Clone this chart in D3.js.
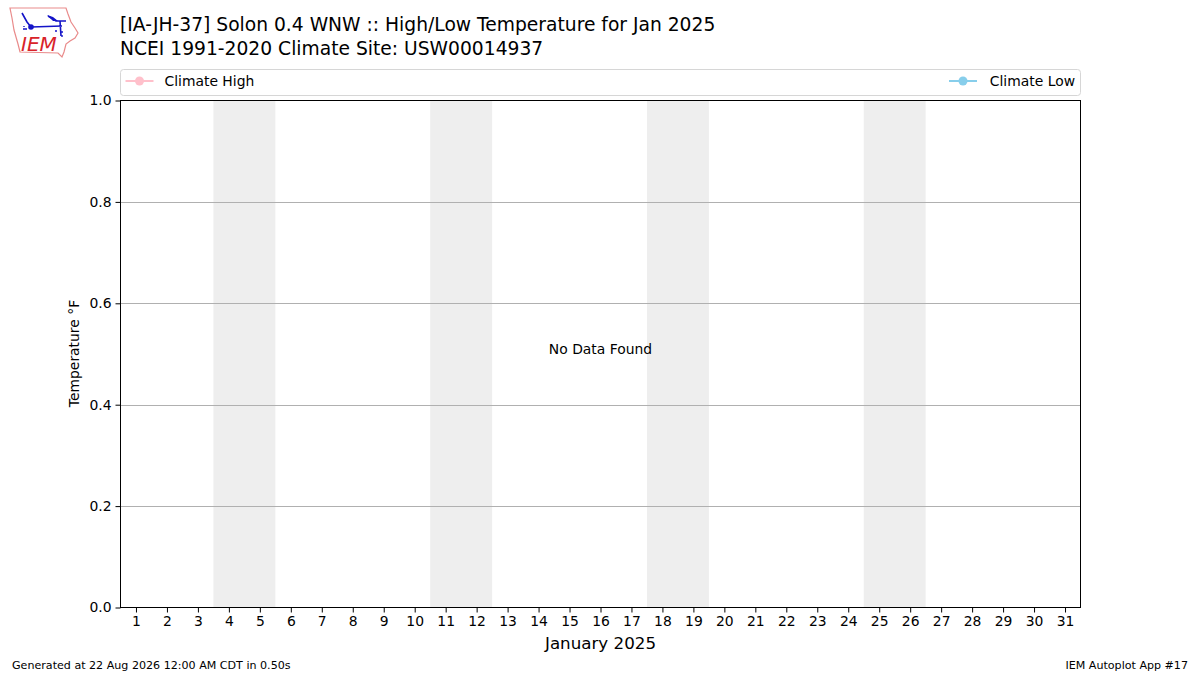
<!DOCTYPE html>
<html>
<head>
<meta charset="utf-8">
<script src="https://cdn.jsdelivr.net/npm/d3@7"></script>
<style>
html, body { margin: 0; padding: 0; background: #fff; }
svg { display: block; }
text { font-family: "DejaVu Sans", sans-serif; fill: #000; }
</style>
</head>
<body>
<svg id="chart" width="1200" height="675"></svg>
<script>
// Chart data
const days = d3.range(1, 32);
const weekends = [[4, 5], [11, 12], [18, 19], [25, 26]];
const yTicks = [0, 0.2, 0.4, 0.6, 0.8, 1.0];
const titleLines = [
    "[IA-JH-37] Solon 0.4 WNW :: High/Low Temperature for Jan 2025",
    "NCEI 1991-2020 Climate Site: USW00014937"
];
const highLabel = "Climate High";
const lowLabel = "Climate Low";
const highColor = "#ffc0cb";
const lowColor = "#87ceeb";

const svg = d3.select("#chart");
const plotLeft = 120.5, plotRight = 1080.5, plotTop = 100.5, plotBottom = 607.5;

const x = d3.scaleLinear().domain([0.5, 31.5]).range([plotLeft, plotRight]);
const y = d3.scaleLinear().domain([0, 1]).range([plotBottom, plotTop]);

// Weekend bands
svg.append("g").selectAll("rect")
    .data(weekends)
    .join("rect")
    .attr("x", d => x(d[0] - 0.5))
    .attr("y", plotTop)
    .attr("width", d => x(d[1] + 0.5) - x(d[0] - 0.5))
    .attr("height", plotBottom - plotTop)
    .attr("fill", "#eeeeee");

// Grid lines
svg.append("g").selectAll("line")
    .data(yTicks.slice(1, -1))
    .join("line")
    .attr("x1", plotLeft).attr("x2", plotRight)
    .attr("y1", d => Math.round(y(d)) + 0.5)
    .attr("y2", d => Math.round(y(d)) + 0.5)
    .attr("stroke", "#b0b0b0")
    .attr("stroke-width", 1);

// Axes
const xAxis = d3.axisBottom(x).tickValues(days).tickFormat(d3.format("d")).tickSize(5).tickPadding(4);
const yAxis = d3.axisLeft(y).tickValues(yTicks).tickFormat(d3.format(".1f")).tickSize(5).tickPadding(4);

const gx = svg.append("g").attr("transform", `translate(0,${plotBottom})`).call(xAxis);
const gy = svg.append("g").attr("transform", `translate(${plotLeft},0)`).call(yAxis);
[gx, gy].forEach(g => {
    g.select(".domain").remove();
    g.selectAll("text").attr("font-size", 13.9).attr("font-family", "DejaVu Sans");
    g.selectAll("line").attr("stroke", "#000").attr("stroke-width", 1);
});

// Plot frame
svg.append("rect")
    .attr("x", plotLeft).attr("y", plotTop)
    .attr("width", plotRight - plotLeft).attr("height", plotBottom - plotTop)
    .attr("fill", "none").attr("stroke", "#000").attr("stroke-width", 1);

// Axis labels
svg.append("text")
    .attr("transform", `translate(79,${(plotTop + plotBottom) / 2 - 0.5}) rotate(-90)`)
    .attr("text-anchor", "middle")
    .attr("font-size", 13.9)
    .text("Temperature °F");

svg.append("text")
    .attr("x", (plotLeft + plotRight) / 2)
    .attr("y", 649)
    .attr("text-anchor", "middle")
    .attr("font-size", 16.7)
    .text("January 2025");

svg.append("text")
    .attr("x", x(16))
    .attr("y", 354)
    .attr("text-anchor", "middle")
    .attr("font-size", 13.9)
    .text("No Data Found");

// Title
svg.append("g").selectAll("text")
    .data(titleLines)
    .join("text")
    .attr("x", 120)
    .attr("y", (d, i) => 31 + i * 23.5)
    .attr("font-size", 18.7)
    .text(d => d);

// Legend
svg.append("rect")
    .attr("x", 120.5).attr("y", 69.5)
    .attr("width", 960).attr("height", 26)
    .attr("rx", 3)
    .attr("fill", "#fff")
    .attr("stroke", "#d6d6d6");

function legendKey(cx, color) {
    svg.append("line")
        .attr("x1", cx - 14).attr("x2", cx + 14)
        .attr("y1", 81).attr("y2", 81)
        .attr("stroke", color).attr("stroke-width", 2);
    svg.append("circle")
        .attr("cx", cx).attr("cy", 81).attr("r", 4.5)
        .attr("fill", color);
}
legendKey(139.5, highColor);
legendKey(963, lowColor);

svg.append("text").attr("x", 164.5).attr("y", 86).attr("font-size", 13.9).text(highLabel);
svg.append("text").attr("x", 1075).attr("y", 86).attr("text-anchor", "end").attr("font-size", 13.9).text(lowLabel);

// Footer
svg.append("text").attr("x", 12).attr("y", 669).attr("font-size", 11.1)
    .text("Generated at 22 Aug 2026 12:00 AM CDT in 0.50s");
svg.append("text").attr("x", 1188).attr("y", 669).attr("text-anchor", "end").attr("font-size", 11.1)
    .text("IEM Autoplot App #17");

// IEM logo
const logo = svg.append("g");
logo.append("path")
    .attr("d", "M10,8 L66,8 L68,14 L71,22 L75,28 L78,33 L75,38 L70,41 L66,44 L64,52 L62,57 L58,53 L20,52 L18,44 L14,30 L12,18 Z")
    .attr("fill", "#fff").attr("stroke", "#e98b8b").attr("stroke-width", 1.2);
logo.append("path")
    .attr("d", "M31,27 L62,26 M22,13 L27,22 L31,27 M48,16 L56,21 L66,21 M60,21 L61,36")
    .attr("fill", "none").attr("stroke", "#1414c8").attr("stroke-width", 1.6);
logo.append("path").attr("d", "M47,15 L53,17 L58,21 L53,21 Z").attr("fill", "#1414c8");
logo.append("circle").attr("cx", 31).attr("cy", 27).attr("r", 2.8).attr("fill", "#1414c8");
logo.append("path")
    .attr("d", "M24,26 v1 M23,29 h4 M55,31 h2 M60,32 h3 M62,35 v2")
    .attr("fill", "none").attr("stroke", "#1414c8").attr("stroke-width", 1.4);
logo.append("text")
    .attr("x", 21).attr("y", 51)
    .attr("font-family", "Liberation Serif")
    .attr("font-style", "italic")
    .attr("font-size", 20)
    .style("fill", "#d8232a")
    .text("IEM");
</script>
</body>
</html>
